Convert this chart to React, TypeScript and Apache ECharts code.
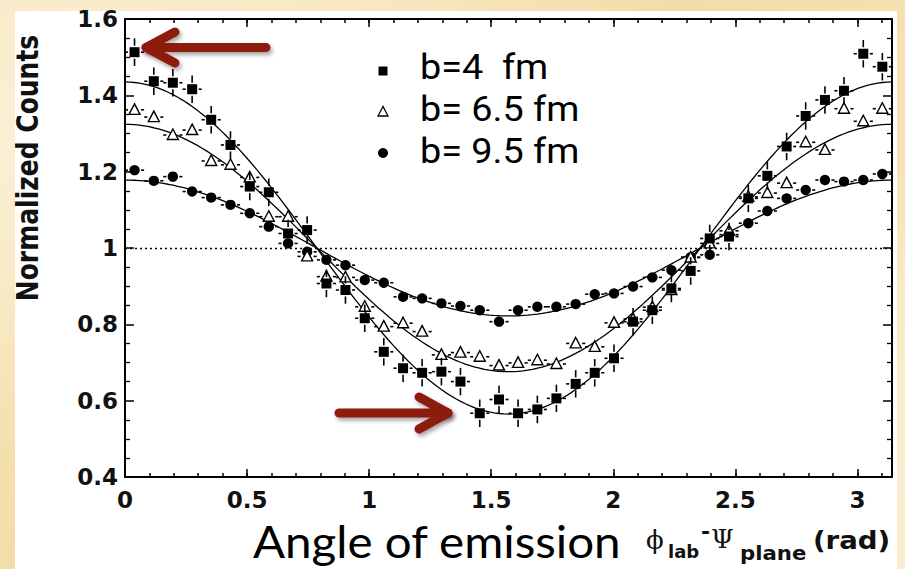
import { useEffect, useRef } from "react";
import * as echarts from "echarts";

// Bin centres of the emission angle (rad)
const angles = [0.039, 0.118, 0.196, 0.275, 0.353, 0.432, 0.511, 0.589, 0.668, 0.746,
  0.825, 0.903, 0.982, 1.060, 1.139, 1.217, 1.296, 1.374, 1.453, 1.532,
  1.610, 1.689, 1.767, 1.846, 1.924, 2.003, 2.081, 2.160, 2.238, 2.317,
  2.395, 2.474, 2.553, 2.631, 2.710, 2.788, 2.867, 2.945, 3.024, 3.102];

const countsB4 = [1.513, 1.437, 1.433, 1.416, 1.336, 1.270, 1.161, 1.146, 1.038, 1.047,
  0.907, 0.890, 0.816, 0.728, 0.685, 0.673, 0.676, 0.650, 0.567, 0.603,
  0.567, 0.577, 0.606, 0.644, 0.673, 0.711, 0.807, 0.837, 0.894, 0.940,
  1.025, 1.030, 1.130, 1.189, 1.266, 1.346, 1.388, 1.412, 1.509, 1.475];

const countsB65 = [1.362, 1.343, 1.296, 1.309, 1.228, 1.218, 1.185, 1.082, 1.082, 0.978,
  0.925, 0.923, 0.846, 0.794, 0.803, 0.781, 0.720, 0.726, 0.715, 0.692,
  0.699, 0.706, 0.696, 0.750, 0.741, 0.804, 0.814, 0.845, 0.890, 0.975,
  1.012, 1.045, 1.134, 1.144, 1.170, 1.277, 1.257, 1.365, 1.332, 1.365];

const countsB95 = [1.204, 1.176, 1.187, 1.148, 1.132, 1.113, 1.091, 1.056, 1.012, 0.990,
  0.969, 0.955, 0.916, 0.909, 0.872, 0.868, 0.855, 0.848, 0.837, 0.807,
  0.837, 0.846, 0.846, 0.853, 0.879, 0.881, 0.899, 0.923, 0.942, 0.976,
  0.982, 1.035, 1.065, 1.097, 1.130, 1.152, 1.178, 1.174, 1.178, 1.194];

// vertical error (half) per series, horizontal half bin width
const yErrors = [0.036, 0.016, 0.007];
const binHalfWidth = 0.0393;

// fit: 1 + A cos(2 phi)
const fitAmplitudes = [0.435, 0.324, 0.178];

const legendLabels = ["b=4  fm", "b= 6.5 fm", "b= 9.5 fm"];

const X_MAX = Math.PI;

function fitCurve(amp: number) {
  const pts: number[][] = [];
  const n = 160;
  for (let k = 0; k <= n; k++) {
    const phi = (k / n) * X_MAX;
    pts.push([phi, 1 + amp * Math.cos(2 * phi)]);
  }
  return pts;
}

const LINE = { stroke: "#000", lineWidth: 1.6 };

function makeRender(shape: "square" | "triangle" | "circle", err: number) {
  return (params: any, api: any) => {
    const x = api.value(0);
    const y = api.value(1);
    const c = api.coord([x, y]);
    const cx = c[0], cy = c[1];
    const lx = api.coord([x - binHalfWidth, y])[0];
    const rx = api.coord([x + binHalfWidth, y])[0];
    const ty = api.coord([x, y + err])[1];
    const by = api.coord([x, y - err])[1];
    const r = 5;
    const g = 1.5;
    const children: any[] = [];
    if (cx - r - g > lx) children.push({ type: "line", shape: { x1: lx, y1: cy, x2: cx - r - g, y2: cy }, style: LINE });
    if (rx > cx + r + g) children.push({ type: "line", shape: { x1: cx + r + g, y1: cy, x2: rx, y2: cy }, style: LINE });
    if (cy - r - g > ty) children.push({ type: "line", shape: { x1: cx, y1: ty, x2: cx, y2: cy - r - g }, style: LINE });
    if (by > cy + r + g) children.push({ type: "line", shape: { x1: cx, y1: cy + r + g, x2: cx, y2: by }, style: LINE });
    if (shape === "square") {
      children.push({ type: "rect", shape: { x: cx - 5, y: cy - 5, width: 10, height: 10 }, style: { fill: "#000" } });
    } else if (shape === "circle") {
      children.push({ type: "circle", shape: { cx, cy, r: 5.2 }, style: { fill: "#000" } });
    } else {
      children.push({
        type: "polygon",
        shape: { points: [[cx, cy - 6], [cx - 5.5, cy + 4.5], [cx + 5.5, cy + 4.5]] },
        style: { fill: "#fff", stroke: "#000", lineWidth: 1.4 },
      });
    }
    return { type: "group", children };
  };
}

const tickFont = { fontFamily: "DejaVu Sans", fontWeight: "bold" as const, fontSize: 23, color: "#111" };

function xAxisDef(position: "top" | "bottom", interval: number, major: boolean, labels: boolean) {
  return {
    type: "value",
    position,
    min: 0,
    max: X_MAX,
    interval,
    axisLine: { show: major, onZero: false, lineStyle: { color: "#000", width: 2 } },
    axisTick: { show: true, inside: true, length: major ? 8 : 4, lineStyle: { color: "#000", width: 1.5 } },
    splitLine: { show: false },
    axisLabel: labels
      ? {
          show: true,
          margin: 11,
          ...tickFont,
          formatter: (v: number) => (Math.abs(v * 2 - Math.round(v * 2)) < 1e-6 ? String(Math.round(v * 2) / 2) : ""),
        }
      : { show: false },
  };
}

function yAxisDef(position: "left" | "right", labels: boolean) {
  return {
    type: "value",
    position,
    min: 0.4,
    max: 1.6,
    interval: 0.2,
    axisLine: { show: true, onZero: false, lineStyle: { color: "#000", width: 2 } },
    axisTick: { show: true, inside: true, length: 9, lineStyle: { color: "#000", width: 1.5 } },
    minorTick: { show: true, splitNumber: 4, length: 5, lineStyle: { color: "#000", width: 1.3 } },
    splitLine: { show: false },
    axisLabel: labels
      ? { show: true, margin: 7, ...tickFont, formatter: (v: number) => String(Math.round(v * 10) / 10) }
      : { show: false },
  };
}

const ARROW = "#8e1a0e";
const arrowStyle = {
  stroke: ARROW,
  lineWidth: 9,
  lineCap: "round",
  lineJoin: "round",
  fill: null,
  shadowBlur: 4,
  shadowColor: "rgba(0,0,0,0.35)",
  shadowOffsetX: 2,
  shadowOffsetY: 3,
};

function arrow(tail: number[], tip: number[], armA: number[], armB: number[]) {
  return [
    { type: "polyline", shape: { points: [armA, tip, tail] }, style: arrowStyle, z: 50 },
    { type: "polyline", shape: { points: [tip, armB] }, style: arrowStyle, z: 50 },
  ];
}

export default function App() {
  const ref = useRef<HTMLDivElement>(null);

  useEffect(() => {
    if (!ref.current) return;
    const chart = echarts.init(ref.current, undefined, { renderer: "svg" });
    const seriesCounts = [countsB4, countsB65, countsB95];
    const shapes: ("square" | "triangle" | "circle")[] = ["square", "triangle", "circle"];

    const fitSeries = fitAmplitudes.map((amp, i) => ({
      type: "line",
      name: "fit " + legendLabels[i],
      data: fitCurve(amp),
      showSymbol: false,
      symbol: "none",
      lineStyle: { color: "#000", width: 1.3 },
      z: 2,
      silent: true,
      ...(i === 0
        ? {
            markLine: {
              silent: true,
              symbol: "none",
              label: { show: false },
              lineStyle: { color: "#000", type: [2, 3], width: 1.4 },
              data: [{ yAxis: 1 }],
            },
          }
        : {}),
    }));

    const pointSeries = [2, 1, 0].map((i) => ({
      type: "custom",
      name: legendLabels[i],
      data: angles.map((a, k) => [a, seriesCounts[i][k]]),
      renderItem: makeRender(shapes[i], yErrors[i]),
      z: 3 + (2 - i),
      clip: false,
    }));

    const legendGraphics: any[] = [];
    const legendY = [71, 112, 153];
    legendGraphics.push({ type: "rect", shape: { x: 378.5, y: legendY[0] - 4.5, width: 9, height: 9 }, style: { fill: "#000" } });
    legendGraphics.push({
      type: "polygon",
      shape: { points: [[383, legendY[1] - 5.5], [378, legendY[1] + 4], [388, legendY[1] + 4]] },
      style: { fill: "#fff", stroke: "#000", lineWidth: 1.3 },
    });
    legendGraphics.push({ type: "circle", shape: { cx: 383, cy: legendY[2], r: 5 }, style: { fill: "#000" } });
    const legendBase = [79, 121, 163];
    legendLabels.forEach((t, i) => {
      legendGraphics.push({
        type: "text",
        x: 420,
        y: legendBase[i] - 12,
        scaleX: 1.08,
        style: {
          text: t,
          fontFamily: "Roboto",
          fontSize: 35,
          fill: "#000",
          align: "left",
          verticalAlign: "middle",
        },
      });
    });

    chart.setOption({
      animation: false,
      backgroundColor: "transparent",
      grid: { left: 125, right: 13, top: 19, bottom: 92, containLabel: false },
      xAxis: [
        xAxisDef("bottom", 0.5, true, true),
        xAxisDef("bottom", 0.1, false, false),
        xAxisDef("top", 0.5, true, false),
        xAxisDef("top", 0.1, false, false),
      ],
      yAxis: [yAxisDef("left", true), yAxisDef("right", false)],
      series: [...fitSeries, ...pointSeries],
      graphic: [
        ...legendGraphics,
        {
          type: "text",
          x: 28,
          y: 168,
          rotation: Math.PI / 2,
          scaleY: 1.2,
          style: {
            text: "Normalized Counts",
            fontFamily: "DejaVu Sans",
            fontWeight: "bold",
            fontSize: 25,
            fill: "#111",
            align: "center",
            verticalAlign: "middle",
          },
        },
        {
          type: "text",
          x: 253,
          y: 541,
          scaleX: 1.08,
          style: { text: "Angle of emission", fontFamily: "Lato", fontSize: 44, fill: "#000", align: "left", verticalAlign: "middle" },
        },
        { type: "text", x: 646, y: 540, style: { text: "ϕ", fontFamily: "DejaVu Serif", fontSize: 26, fill: "#111", align: "left", verticalAlign: "middle" } },
        { type: "text", x: 668, y: 551, style: { text: "lab", fontFamily: "DejaVu Sans", fontWeight: "bold", fontSize: 18, fill: "#111", align: "left", verticalAlign: "middle" } },
        { type: "text", x: 701, y: 531, style: { text: "-", fontFamily: "DejaVu Sans", fontWeight: "bold", fontSize: 22, fill: "#111", align: "left", verticalAlign: "middle" } },
        { type: "text", x: 711, y: 539, style: { text: "Ψ", fontFamily: "DejaVu Serif", fontSize: 26, fill: "#111", align: "left", verticalAlign: "middle" } },
        { type: "text", x: 740, y: 553, scaleX: 1.12, style: { text: "plane", fontFamily: "DejaVu Sans", fontWeight: "bold", fontSize: 19, fill: "#111", align: "left", verticalAlign: "middle" } },
        { type: "text", x: 813, y: 541, scaleX: 1.15, style: { text: "(rad)", fontFamily: "DejaVu Sans", fontWeight: "bold", fontSize: 24, fill: "#111", align: "left", verticalAlign: "middle" } },
        ...arrow([266, 47.5], [146, 47.5], [175, 32], [175, 63]),
        ...arrow([339, 413], [448, 413], [419, 397], [419, 429]),
      ],
    });
    return () => chart.dispose();
  }, []);

  return (
    <div
      style={{
        position: "fixed",
        left: 0,
        top: 0,
        width: 905,
        height: 569,
        overflow: "hidden",
        background:
          "radial-gradient(ellipse at 15% 25%, rgba(255,250,236,0.7), rgba(255,250,236,0) 55%), radial-gradient(ellipse at 85% 80%, rgba(255,247,228,0.6), rgba(255,247,228,0) 50%), linear-gradient(135deg, #f6e3b6 0%, #f3dca8 45%, #f8e8c2 100%)",
      }}
    >
      <div style={{ position: "absolute", left: 15, top: 11, width: 882, height: 558, background: "#fff" }} />
      <div ref={ref} style={{ position: "absolute", left: 0, top: 0, width: 905, height: 569 }} />
    </div>
  );
}
